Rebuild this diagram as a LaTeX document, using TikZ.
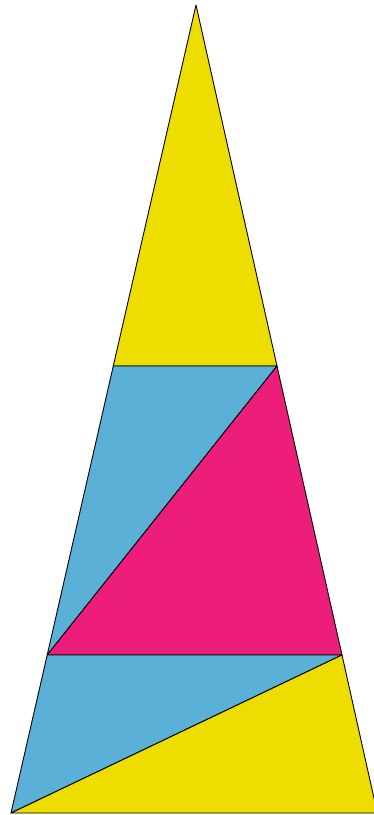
\documentclass[tikz,border=0pt]{standalone}
\definecolor{tyellow}{RGB}{238,221,0}
\definecolor{tblue}{RGB}{91,176,216}
\definecolor{tpink}{RGB}{236,30,121}
\tikzset{piece/.style={draw=black, line width=0.9pt, line join=round}}
\begin{document}
\begin{tikzpicture}[x=1pt, y=-1pt]
\useasboundingbox (0,0) rectangle (374,815);
\clip (0,0) rectangle (374,815);
\coordinate (apex) at (196,5);
\coordinate (l1) at (113.3,366);
\coordinate (r1) at (277,366);
\coordinate (l2) at (47.2,655);
\coordinate (r2) at (342,655);
\coordinate (bl) at (11,813);
\coordinate (br) at (377.3,813);

\filldraw[piece, fill=tyellow] (apex) -- (l1) -- (r1) -- cycle;
\filldraw[piece, fill=tblue] (l1) -- (r1) -- (l2) -- cycle;
\filldraw[piece, fill=tpink] (r1) -- (l2) -- (r2) -- cycle;
\filldraw[piece, fill=tblue] (l2) -- (r2) -- (bl) -- cycle;
\filldraw[piece, fill=tyellow] (r2) -- (bl) -- (br) -- cycle;
\end{tikzpicture}
\end{document}
